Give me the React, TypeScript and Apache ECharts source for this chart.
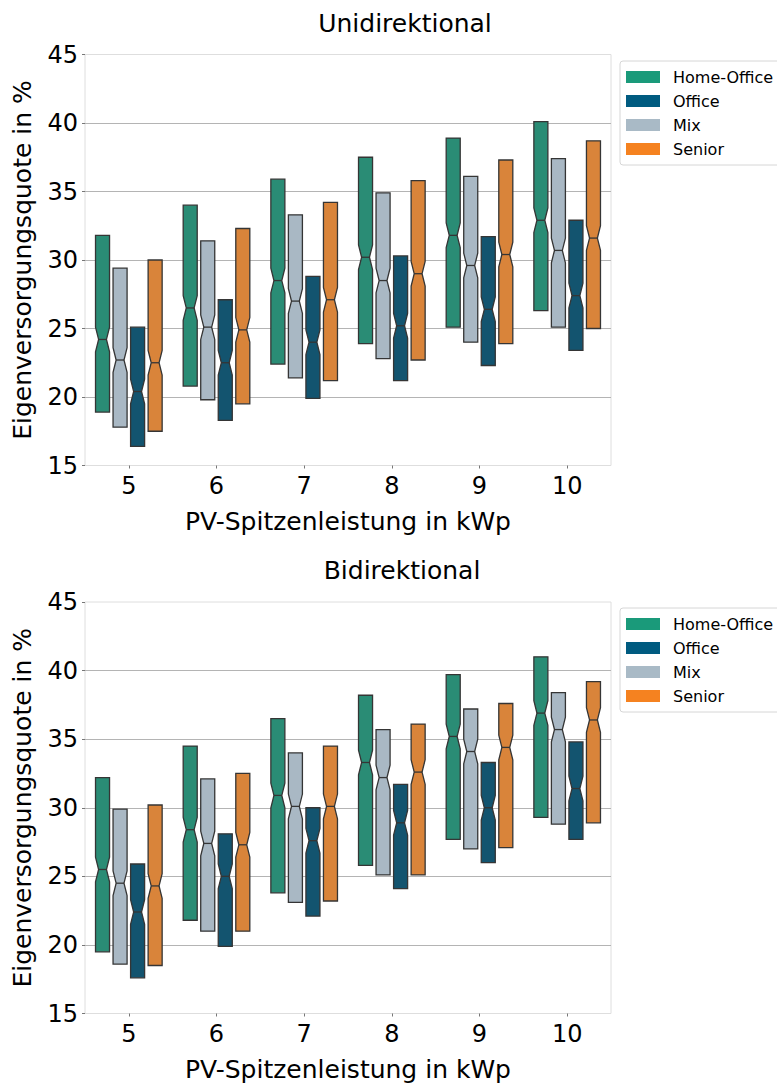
import React, { useEffect, useRef } from "react";
import * as echarts from "echarts";

const CATEGORIES = ["5", "6", "7", "8", "9", "10"];
const Y_TICKS_MIN = 15;
const Y_TICKS_MAX = 45;
const Y_TICK_STEP = 5;

// order in the plot: Home-Office, Mix, Office, Senior
const GROUPS = ["Home-Office", "Mix", "Office", "Senior"];
const LEGEND_ORDER = ["Home-Office", "Office", "Mix", "Senior"];
const BOX_COLORS = ["#2a8c75", "#a9b8c4", "#13546f", "#d9843a"];
const LEGEND_COLORS: Record<string, string> = {
  "Home-Office": "#1a9a7a",
  Office: "#005b80",
  Mix: "#a9bac6",
  Senior: "#f58220",
};

// [low, median, high] per category
const UNI_HOME_OFFICE = [[18.9, 24.2, 31.8], [20.8, 26.5, 34.0], [22.4, 28.5, 35.9], [23.9, 30.2, 37.5], [25.1, 31.8, 38.9], [26.3, 32.9, 40.1]];
const UNI_MIX = [[17.8, 22.7, 29.4], [19.8, 25.1, 31.4], [21.4, 27.0, 33.3], [22.8, 28.5, 34.9], [24.0, 29.6, 36.1], [25.1, 30.7, 37.4]];
const UNI_OFFICE = [[16.4, 20.4, 25.1], [18.3, 22.5, 27.1], [19.9, 24.0, 28.8], [21.2, 25.2, 30.3], [22.3, 26.4, 31.7], [23.4, 27.4, 32.9]];
const UNI_SENIOR = [[17.5, 22.5, 30.0], [19.5, 24.9, 32.3], [21.2, 27.1, 34.2], [22.7, 29.0, 35.8], [23.9, 30.4, 37.3], [25.0, 31.6, 38.7]];

const BI_HOME_OFFICE = [[19.5, 25.5, 32.2], [21.8, 28.4, 34.5], [23.8, 30.9, 36.5], [25.8, 33.3, 38.2], [27.7, 35.2, 39.7], [29.3, 36.9, 41.0]];
const BI_MIX = [[18.6, 24.5, 29.9], [21.0, 27.4, 32.1], [23.1, 30.1, 34.0], [25.1, 32.2, 35.7], [27.0, 34.1, 37.2], [28.8, 35.7, 38.4]];
const BI_OFFICE = [[17.6, 22.4, 25.9], [19.9, 25.0, 28.1], [22.1, 27.6, 30.0], [24.1, 28.9, 31.7], [26.0, 30.0, 33.3], [27.7, 31.4, 34.8]];
const BI_SENIOR = [[18.5, 24.3, 30.2], [21.0, 27.3, 32.5], [23.2, 30.1, 34.5], [25.1, 32.6, 36.1], [27.1, 34.4, 37.6], [28.9, 36.4, 39.2]];

const NOTCH = 0.9; // half-height of notch in data units

const UNI = [UNI_HOME_OFFICE, UNI_MIX, UNI_OFFICE, UNI_SENIOR];
const BI = [BI_HOME_OFFICE, BI_MIX, BI_OFFICE, BI_SENIOR];

const FONT = "DejaVu Sans";

function makeSeries(data: number[][][], axisIndex: number) {
  return data.map((groupData, gi) => ({
    type: "custom",
    name: GROUPS[gi],
    xAxisIndex: axisIndex,
    yAxisIndex: axisIndex,
    itemStyle: { color: BOX_COLORS[gi] },
    encode: { x: 0, y: [1, 2, 3] },
    data: groupData.map((v, ci) => [ci, v[0], v[1], v[2]]),
    renderItem: (params: any, api: any) => {
      const ci = api.value(0);
      const lo = api.value(1);
      const md = api.value(2);
      const hi = api.value(3);
      const pLo = api.coord([ci, lo]);
      const pMd = api.coord([ci, md]);
      const pHi = api.coord([ci, hi]);
      const pNt = api.coord([ci, md + NOTCH]);
      const pNb = api.coord([ci, md - NOTCH]);
      const band = api.size([1, 0])[0];
      const slot = (band * 0.8) / 4;
      const cx = pLo[0] + (gi - 1.5) * slot;
      const w = slot * 0.8;
      const l = cx - w / 2;
      const r = cx + w / 2;
      const ins = w * 0.22;
      const pts = [
        [l, pHi[1]],
        [r, pHi[1]],
        [r, pNt[1]],
        [r - ins, pMd[1]],
        [r, pNb[1]],
        [r, pLo[1]],
        [l, pLo[1]],
        [l, pNb[1]],
        [l + ins, pMd[1]],
        [l, pNt[1]],
      ];
      return {
        type: "group",
        children: [
          {
            type: "polygon",
            shape: { points: pts },
            style: { fill: BOX_COLORS[gi], stroke: "#353535", lineWidth: 1.3 },
          },
          {
            type: "line",
            shape: { x1: l + ins, y1: pMd[1], x2: r - ins, y2: pMd[1] },
            style: { stroke: "#353535", lineWidth: 1.3 },
          },
        ],
      };
    },
  }));
}

function xAxis(gridIndex: number) {
  return {
    type: "category",
    gridIndex,
    data: CATEGORIES,
    boundaryGap: true,
    name: "PV-Spitzenleistung in kWp",
    nameLocation: "middle",
    nameGap: 43,
    nameTextStyle: { fontSize: 25, color: "#000", fontFamily: FONT },
    axisLine: { show: false },
    axisTick: { show: true, alignWithLabel: true, length: 3, lineStyle: { color: "#777" } },
    axisLabel: { fontSize: 24, color: "#000", fontFamily: FONT, margin: 8 },
    splitLine: { show: false },
  };
}

function yAxis(gridIndex: number) {
  return {
    type: "value",
    gridIndex,
    min: Y_TICKS_MIN,
    max: Y_TICKS_MAX,
    interval: Y_TICK_STEP,
    name: "Eigenversorgungsquote in %",
    nameLocation: "middle",
    nameGap: 50,
    nameTextStyle: { fontSize: 25, color: "#000", fontFamily: FONT },
    axisLine: { show: false },
    axisTick: { show: true, length: 3, lineStyle: { color: "#777" } },
    axisLabel: { fontSize: 24, color: "#000", fontFamily: FONT, margin: 7 },
    splitLine: { show: true, showMinLine: false, showMaxLine: false, lineStyle: { color: "#b4b4b4", width: 1 } },
  };
}

function legend(top: number) {
  return {
    orient: "vertical",
    left: 620,
    top,
    icon: "rect",
    itemWidth: 34,
    itemHeight: 12,
    itemGap: 8,
    padding: [8, 8, 8, 6],
    borderColor: "#d6d6d6",
    borderWidth: 1,
    borderRadius: 3,
    backgroundColor: "rgba(255,255,255,0.8)",
    selectedMode: false,
    textStyle: { fontSize: 16, color: "#000", fontFamily: FONT, padding: [0, 0, 0, 8] },
    data: LEGEND_ORDER.map((n) => ({ name: n, itemStyle: { color: LEGEND_COLORS[n], borderWidth: 0 } })),
  };
}

export default function App() {
  const ref = useRef<HTMLDivElement>(null);
  useEffect(() => {
    if (!ref.current) return;
    const chart = echarts.init(ref.current, null, { renderer: "svg" });
    chart.setOption({
      animation: false,
      backgroundColor: "#fff",
      textStyle: { fontFamily: FONT },
      title: [
        { text: "Unidirektional", left: 400, top: 6, textAlign: "center", textStyle: { fontSize: 25, fontWeight: "normal", color: "#000", fontFamily: FONT } },
        { text: "Bidirektional", left: 397, top: 553, textAlign: "center", textStyle: { fontSize: 25, fontWeight: "normal", color: "#000", fontFamily: FONT } },
      ],
      legend: [legend(61), legend(608)],
      grid: [
        { left: 85, top: 54.5, width: 526, height: 411, show: true, borderColor: "#dedede", borderWidth: 1, backgroundColor: "transparent" },
        { left: 85, top: 602, width: 526, height: 411.5, show: true, borderColor: "#dedede", borderWidth: 1, backgroundColor: "transparent" },
      ],
      xAxis: [xAxis(0), xAxis(1)],
      yAxis: [yAxis(0), yAxis(1)],
      series: [...makeSeries(UNI, 0), ...makeSeries(BI, 1)],
    });
    return () => chart.dispose();
  }, []);
  return <div ref={ref} style={{ position: "fixed", left: 0, top: 0, width: 777, height: 1086 }} />;
}
